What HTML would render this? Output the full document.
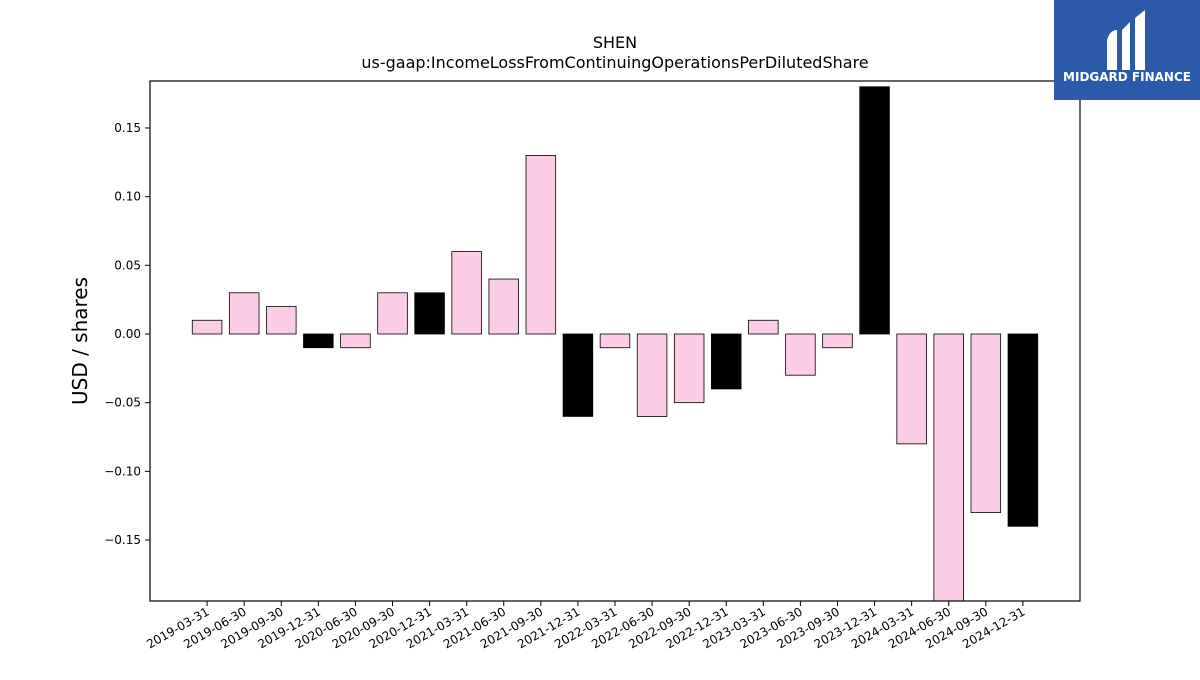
<!DOCTYPE html>
<html><head><meta charset="utf-8"><style>
body{margin:0;background:#fff;font-family:"Liberation Sans","DejaVu Sans",sans-serif}
</style></head><body>
<svg width="1200" height="675" xmlns="http://www.w3.org/2000/svg" id="c" font-family="DejaVu Sans, Liberation Sans, sans-serif">
<rect width="1200" height="675" fill="#fff"/>
<text x="615" y="48" font-size="16" text-anchor="middle">SHEN</text>
<text x="615" y="68" font-size="16" text-anchor="middle">us-gaap:IncomeLossFromContinuingOperationsPerDilutedShare</text>
<text transform="translate(87,341) rotate(-90)" font-size="20" text-anchor="middle">USD / shares</text>
<g id="plot"></g>
<rect x="150" y="81" width="930" height="520" fill="none" stroke="#000" stroke-width="1.2"/>
<g>
<rect x="1054" y="0" width="146" height="100" fill="#2b5aab"/>
<path d="M1107 70 L1107 40 Q1110 30 1117 30 L1117 70 Z M1122 70 L1122 30 L1130 22 L1130 70 Z M1135 70 L1135 18 L1145 10 L1145 70 Z" fill="#fff"/>
<text x="1127" y="81" font-size="12" font-weight="bold" fill="#fff" text-anchor="middle">MIDGARD FINANCE</text>
</g>
</svg>
<script>
const categories=["2019-03-31","2019-06-30","2019-09-30","2019-12-31","2020-06-30","2020-09-30","2020-12-31","2021-03-31","2021-06-30","2021-09-30","2021-12-31","2022-03-31","2022-06-30","2022-09-30","2022-12-31","2023-03-31","2023-06-30","2023-09-30","2023-12-31","2024-03-31","2024-06-30","2024-09-30","2024-12-31"];
const values=[0.01,0.03,0.02,-0.01,-0.01,0.03,0.03,0.06,0.04,0.13,-0.06,-0.01,-0.06,-0.05,-0.04,0.01,-0.03,-0.01,0.18,-0.08,-0.2,-0.13,-0.14];
const yTicks=[-0.15,-0.10,-0.05,0.00,0.05,0.10,0.15];
const yTickLabels=["\u22120.15","\u22120.10","\u22120.05","0.00","0.05","0.10","0.15"];
const L=150,R=1080,T=81,B=601,yMin=-0.1944,yMax=0.1842;
const n=categories.length,pad=1.54;
const xs=i=>L+(i+pad)*(R-L)/(n-1+2*pad);
const ys=v=>B-(v-yMin)/(yMax-yMin)*(B-T);
const NS="http://www.w3.org/2000/svg";
const g=document.getElementById('plot');
function mk(t,a){const e=document.createElementNS(NS,t);for(const k in a)e.setAttribute(k,a[k]);g.appendChild(e);return e;}
const bw=(R-L)/(n-1+2*pad)*0.8;
categories.forEach((c,i)=>{
 const v=values[i];const y0=ys(0);let y1=ys(v);y1=Math.max(T,Math.min(B,y1));
 const r=mk('rect',{x:xs(i)-bw/2,y:Math.min(y0,y1),width:bw,height:Math.abs(y1-y0),fill:c.endsWith('12-31')?'#000':'#fccce6',stroke:'#000','stroke-width':0.8});
 
 
 const tk=mk('line',{x1:xs(i),x2:xs(i),y1:B,y2:B+5,stroke:'#000'});
 
 
 const t=mk('text',{transform:`translate(${xs(i)+3},${B+13}) rotate(-30)`,'font-size':12,'text-anchor':'end'});
 t.textContent=c;
 
 
});
yTicks.forEach((v,i)=>{
 const y=ys(v);
 const tk=mk('line',{x1:L-5,x2:L,y1:y,y2:y,stroke:'#000'});
 
 
 const t=mk('text',{x:L-9,y:y+4,'font-size':12,'text-anchor':'end'});
 t.textContent=yTickLabels[i];
 
 
});
</script>
</body></html>
